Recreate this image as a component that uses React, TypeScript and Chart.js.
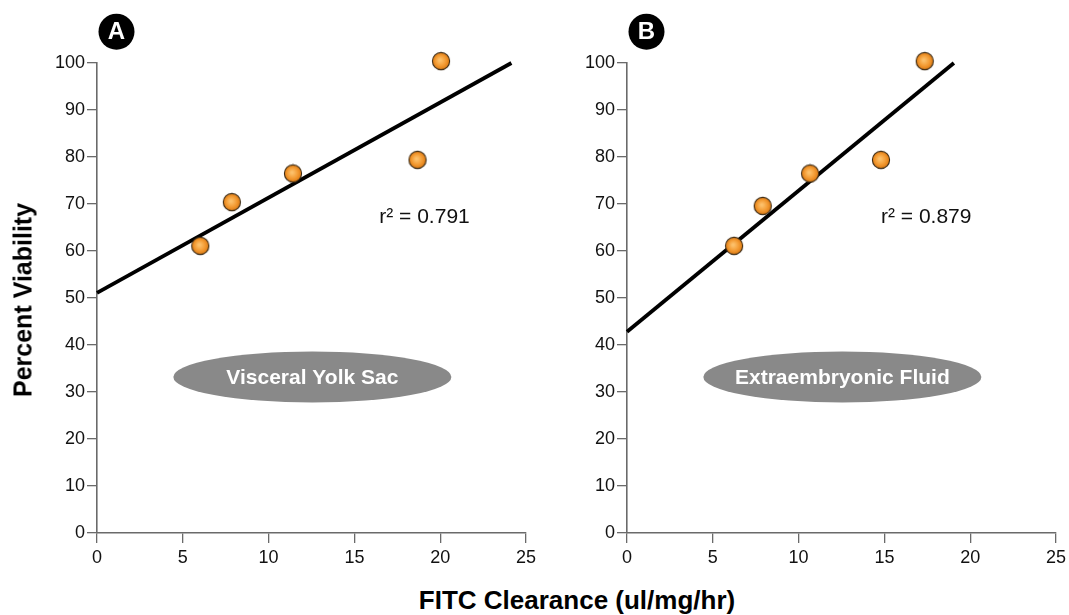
import React, { useEffect, useRef } from "react";
import { Chart, registerables } from "chart.js";

Chart.register(...registerables);

// ---- data ----
const xTicks = [0, 5, 10, 15, 20, 25];
const yTicks = [0, 10, 20, 30, 40, 50, 60, 70, 80, 90, 100];

const clearanceA = [6.02, 7.86, 11.42, 18.68, 20.05];
const viabilityA = [61.1, 70.4, 76.5, 79.4, 100.4];
const fitXA = [0, 24.15];
const fitYA = [51.1, 100];
const r2A = "r² = 0.791";
const tissueA = "Visceral Yolk Sac";
const panelA = "A";

const clearanceB = [6.24, 7.91, 10.67, 14.8, 17.35];
const viabilityB = [61.1, 69.6, 76.5, 79.4, 100.4];
const fitXB = [0, 19.05];
const fitYB = [42.8, 100];
const r2B = "r² = 0.879";
const tissueB = "Extraembryonic Fluid";
const panelB = "B";

const xTitle = "FITC Clearance (ul/mg/hr)";
const yTitle = "Percent Viability";

const FONT = "'Liberation Sans', Arial, Helvetica, sans-serif";

function makeDot(): HTMLCanvasElement {
  const size = 20;
  const c = document.createElement("canvas");
  c.width = size;
  c.height = size;
  const g = c.getContext("2d")!;
  const cx = size / 2;
  const grad = g.createRadialGradient(cx - 1, cx - 1, 1, cx, cx, 9);
  grad.addColorStop(0, "#fcc06a");
  grad.addColorStop(0.55, "#f39a32");
  grad.addColorStop(1, "#d9760f");
  g.beginPath();
  g.arc(cx, cx, 8.6, 0, Math.PI * 2);
  g.fillStyle = grad;
  g.fill();
  g.lineWidth = 1.1;
  g.strokeStyle = "#3b2a14";
  g.stroke();
  return c;
}

type PanelProps = {
  xs: number[];
  ys: number[];
  fitX: number[];
  fitY: number[];
  r2: string;
  tissue: string;
  letter: string;
};

function Panel(props: PanelProps) {
  const ref = useRef<HTMLCanvasElement | null>(null);
  useEffect(() => {
    if (!ref.current) return;
    const dot = makeDot();
    const annot = {
      id: "annot",
      afterDatasetsDraw(chart: any) {
        const ctx = chart.ctx;
        const xs = chart.scales.x;
        const ys = chart.scales.y;
        ctx.save();
        // tissue ellipse
        const ex = xs.getPixelForValue(12.55);
        const ey = ys.getPixelForValue(33.2);
        ctx.beginPath();
        ctx.ellipse(ex, ey, 139, 25.5, 0, 0, Math.PI * 2);
        ctx.fillStyle = "#898989";
        ctx.fill();
        ctx.fillStyle = "#ffffff";
        ctx.font = `bold 21px ${FONT}`;
        ctx.textAlign = "center";
        ctx.textBaseline = "middle";
        ctx.fillText(props.tissue, ex, ey + 1);
        // r² text
        ctx.fillStyle = "#111111";
        ctx.font = `21px ${FONT}`;
        ctx.textAlign = "left";
        ctx.fillText(props.r2, xs.getPixelForValue(props.letter === "A" ? 16.45 : 14.8), ys.getPixelForValue(67.1));
        // panel letter
        const lx = xs.left + 19.5;
        const ly = 31.7;
        ctx.beginPath();
        ctx.arc(lx, ly, 18, 0, Math.PI * 2);
        ctx.fillStyle = "#000000";
        ctx.fill();
        ctx.fillStyle = "#ffffff";
        ctx.font = `bold 24px ${FONT}`;
        ctx.textAlign = "center";
        ctx.fillText(props.letter, lx, ly + 1);
        ctx.restore();
      },
    };
    const chart = new Chart(ref.current, {
      type: "scatter",
      data: {
        datasets: [
          {
            label: "points",
            data: props.xs.map((x, i) => ({ x, y: props.ys[i] })),
            pointStyle: dot as any,
            pointRadius: 9,
            clip: false,
            order: 0,
          } as any,
          {
            label: "fit",
            data: props.fitX.map((x, i) => ({ x, y: props.fitY[i] })),
            showLine: true,
            borderColor: "#000000",
            borderWidth: 3.8,
            pointRadius: 0,
            clip: false,
            order: 1,
          } as any,
        ],
      },
      plugins: [annot],
      options: {
        animation: false,
        responsive: false,
        maintainAspectRatio: false,
        layout: { padding: { top: 63, right: 12, left: 0, bottom: 0 } },
        plugins: {
          legend: { display: false },
          tooltip: { enabled: false },
          title: { display: false },
        },
        scales: {
          x: {
            type: "linear",
            min: 0,
            max: 25,
            afterBuildTicks(scale: any) {
              scale.ticks = xTicks.map((v) => ({ value: v }));
            },
            afterFit(scale: any) {
              scale.height = 37;
            },
            grid: {
              display: true,
              drawOnChartArea: false,
              drawTicks: true,
              tickLength: 10,
              color: "#6a6a6a",
              lineWidth: 1.3,
            },
            border: { display: true, color: "#6a6a6a", width: 1.6 },
            ticks: {
              color: "#111111",
              font: { family: FONT, size: 18 },
              padding: 4,
              maxRotation: 0,
            },
          },
          y: {
            type: "linear",
            min: 0,
            max: 100,
            afterBuildTicks(scale: any) {
              scale.ticks = yTicks.map((v) => ({ value: v }));
            },
            afterFit(scale: any) {
              scale.width = 97;
            },
            grid: {
              display: true,
              drawOnChartArea: false,
              drawTicks: true,
              tickLength: 10,
              color: "#6a6a6a",
              lineWidth: 1.3,
            },
            border: { display: true, color: "#6a6a6a", width: 1.6 },
            ticks: {
              color: "#111111",
              font: { family: FONT, size: 18 },
              padding: 2,
            },
          },
        },
      } as any,
    });
    return () => chart.destroy();
  }, []);
  return <canvas ref={ref} width={540} height={570} style={{ display: "block", width: 540, height: 570 }} />;
}

export default function App() {
  useEffect(() => {
    document.body.style.margin = "0";
  }, []);
  return (
    <div style={{ position: "relative", width: 1069, height: 615, background: "#ffffff", overflow: "hidden", fontFamily: FONT }}>
      <div style={{ position: "absolute", left: 0, top: 0 }}>
        <Panel xs={clearanceA} ys={viabilityA} fitX={fitXA} fitY={fitYA} r2={r2A} tissue={tissueA} letter={panelA} />
      </div>
      <div style={{ position: "absolute", left: 530, top: 0 }}>
        <Panel xs={clearanceB} ys={viabilityB} fitX={fitXB} fitY={fitYB} r2={r2B} tissue={tissueB} letter={panelB} />
      </div>
      <div
        style={{
          position: "absolute",
          left: 23,
          top: 300,
          transform: "translate(-50%, -50%) rotate(-90deg)",
          whiteSpace: "nowrap",
          fontWeight: "bold",
          fontSize: 25,
          color: "#000",
        }}
      >
        {yTitle}
      </div>
      <div
        style={{
          position: "absolute",
          left: 577,
          top: 600,
          transform: "translate(-50%, -50%)",
          whiteSpace: "nowrap",
          fontWeight: "bold",
          fontSize: 26,
          color: "#000",
        }}
      >
        {xTitle}
      </div>
    </div>
  );
}
